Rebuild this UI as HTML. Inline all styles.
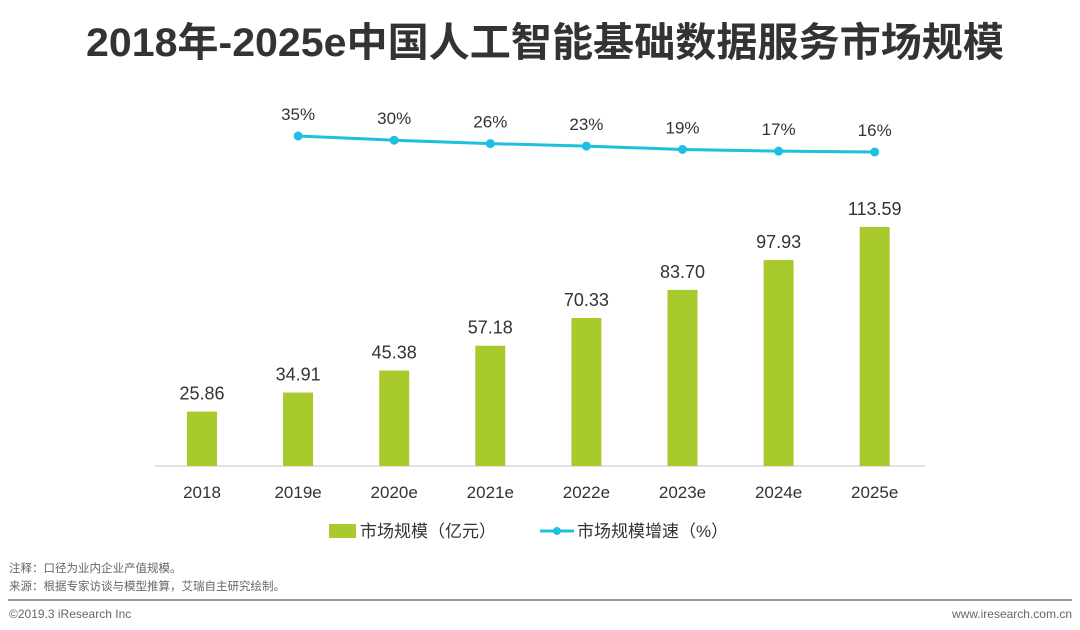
<!DOCTYPE html>
<html><head><meta charset="utf-8"><style>
body{margin:0;width:1080px;height:630px;background:#fff;overflow:hidden;font-family:"Liberation Sans","Noto Sans CJK SC",sans-serif}
svg{display:block}
</style></head><body>
<svg id="c" width="1080" height="630">
<text x="545" y="56" text-anchor="middle" font-size="40" font-weight="bold" fill="#333" textLength="918" lengthAdjust="spacingAndGlyphs">2018年-2025e中国人工智能基础数据服务市场规模</text>
<line x1="155" y1="466" x2="925" y2="466" stroke="#d9d9d9" stroke-width="1.5"/>
<g id="bars"></g><g id="line"></g><g id="xl"></g>
<g>
<rect x="329" y="524" width="27" height="14" fill="#a8ca2c"/>
<text x="360" y="537" font-size="17" fill="#333">市场规模（亿元）</text>
<line x1="540" y1="531" x2="574" y2="531" stroke="#1ebfe0" stroke-width="3"/>
<circle cx="557" cy="531" r="4" fill="#1ebfe0"/>
<text x="577" y="537" font-size="17" fill="#333">市场规模增速（%）</text>
</g>
<text x="9" y="572" font-size="11.5" fill="#666">注释：口径为业内企业产值规模。</text>
<text x="9" y="590" font-size="11.5" fill="#666">来源：根据专家访谈与模型推算，艾瑞自主研究绘制。</text>
<line x1="8" y1="600" x2="1072" y2="600" stroke="#777" stroke-width="1.5"/>
<text x="9" y="618" font-size="12" fill="#666">©2019.3 iResearch Inc</text>
<text x="1072" y="618" font-size="12" fill="#666" text-anchor="end">www.iresearch.com.cn</text>
</svg>
<script>
const categories=["2018","2019e","2020e","2021e","2022e","2023e","2024e","2025e"];
const marketSize=[25.86,34.91,45.38,57.18,70.33,83.70,97.93,113.59];
const growth=[35,30,26,23,19,17,16];
const growthCats=["2019e","2020e","2021e","2022e","2023e","2024e","2025e"];
const NS="http://www.w3.org/2000/svg";
function mk(t,a,p){const e=document.createElementNS(NS,t);for(const k in a)e.setAttribute(k,a[k]);p.appendChild(e);return e;}
function xPos(c){return 202+categories.indexOf(c)*96.1;}
function yBar(v){return 466-v*2.104;}
function yLine(v){return 152-(v-16)*0.842;}
const bars=document.getElementById('bars'),line=document.getElementById('line'),xl=document.getElementById('xl');
categories.forEach((c,i)=>{
 const x=xPos(c),y=yBar(marketSize[i]);
 const r=mk('rect',{x:x-15,y:y,width:30,height:466-y,fill:'#a8ca2c'},bars);
 
 
 const t=mk('text',{x:x,y:y-12,'text-anchor':'middle','font-size':18,fill:'#333'},bars);
 t.textContent=marketSize[i].toFixed(2);
 
 
 const l=mk('text',{x:x,y:498,'text-anchor':'middle','font-size':17,fill:'#333'},xl);
 l.textContent=c;
 
 
});
const pts=growthCats.map((c,i)=>[xPos(c),yLine(growth[i])]);
const pl=mk('polyline',{points:pts.map(p=>p.join(',')).join(' '),fill:'none',stroke:'#1ebfe0','stroke-width':3},line);


pts.forEach((p,i)=>{
 const d=mk('circle',{cx:p[0],cy:p[1],r:4.5,fill:'#1ebfe0'},line);
 
 
 const t=mk('text',{x:p[0],y:p[1]-16,'text-anchor':'middle','font-size':17,fill:'#333'},line);
 t.textContent=growth[i]+'%';
 
 
});
</script>
</body></html>
